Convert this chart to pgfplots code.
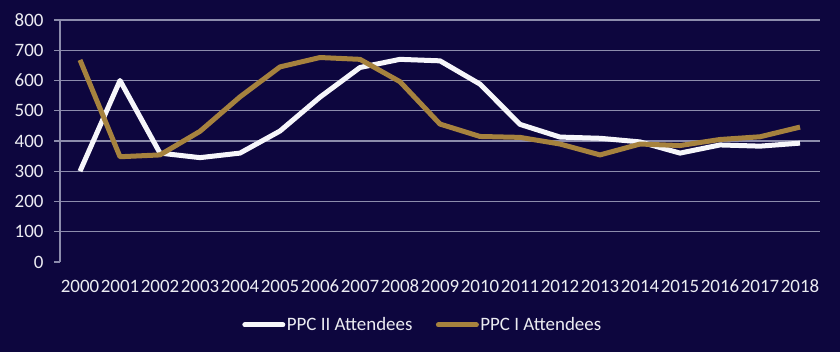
\documentclass[border=0pt]{standalone}
\usepackage{pgfplots}
\pgfplotsset{compat=1.18}
\usepackage{fontspec}
\setmainfont{Carlito}
\definecolor{bg}{RGB}{13,6,62}
\definecolor{gold}{RGB}{166,130,62}
\definecolor{wline}{RGB}{246,246,250}
\definecolor{gridc}{RGB}{140,140,172}
\definecolor{txt}{RGB}{236,236,242}
\begin{document}
\begin{tikzpicture}[x=1bp,y=1bp]
\fill[bg] (0,0) rectangle (840,352);
\useasboundingbox (0,0) rectangle (840,352);
\begin{axis}[
  at={(60bp,90bp)}, anchor=south west,
  scale only axis, width=760bp, height=242bp,
  xmin=-0.5, xmax=18.5, ymin=0, ymax=800,
  axis x line*=bottom, x axis line style={draw=none},
  axis y line*=left, y axis line style={draw=gridc, line width=1.1bp},
  xtick={0,...,18},
  xticklabels={2000,2001,2002,2003,2004,2005,2006,2007,2008,2009,2010,2011,2012,2013,2014,2015,2016,2017,2018},
  ytick={100,200,...,800},
  ymajorgrids, major grid style={draw=gridc, line width=1.1bp},
  x tick style={draw=none},
  y tick style={draw=gridc, line width=1.1bp},
  major tick length=6bp, tick align=outside,
  extra y ticks={0},
  extra y tick style={ymajorgrids=false},
  /pgf/number format/assume math mode=true,
  every tick label/.append style={font=\fontsize{19}{21}\selectfont, text=txt},
  yticklabel style={xshift=-7bp},
  xticklabel style={yshift=-8.5bp},
  legend style={at={(0.477,-0.26)}, anchor=center, legend columns=2, draw=none, fill=none,
    text=txt, font=\fontsize{19}{21}\selectfont, nodes={inner sep=1.5bp},
    /tikz/every even column/.append style={column sep=22bp}},
  legend image code/.code={\draw[#1, line cap=round] (0bp,0bp) -- (38bp,0bp);},
  every axis plot/.append style={line width=5bp, line join=round},
]
\addplot[wline] coordinates {
 (0,300) (1,600) (2,360) (3,345) (4,360) (5,433) (6,545) (7,643) (8,670) (9,665)
 (10,588) (11,455) (12,413) (13,409) (14,397) (15,360) (16,387) (17,383) (18,393)};
\addlegendentry{PPC II Attendees}
\addplot[gold] coordinates {
 (0,668) (1,348) (2,354) (3,432) (4,546) (5,645) (6,676) (7,670) (8,596) (9,456)
 (10,415) (11,412) (12,390) (13,354) (14,390) (15,385) (16,405) (17,414) (18,446)};
\addlegendentry{PPC I Attendees}
\end{axis}
\end{tikzpicture}
\end{document}
